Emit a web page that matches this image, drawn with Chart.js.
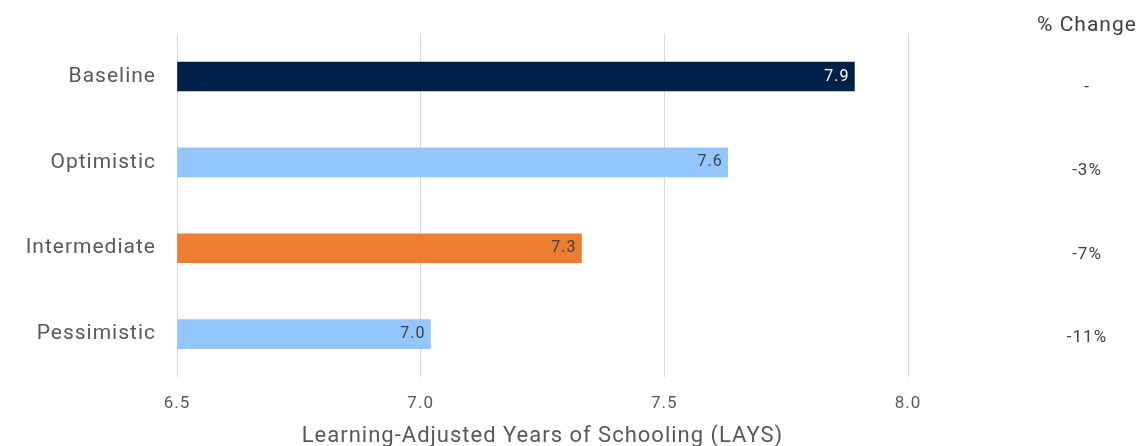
<!DOCTYPE html>
<html>
<head>
<meta charset="utf-8">
<script src="https://cdn.jsdelivr.net/npm/chart.js@4"></script>
<style>
html,body{margin:0;padding:0;background:#fff;}
#wrap{width:1140px;height:446px;}
</style>
</head>
<body>
<div id="wrap"><canvas id="c" width="1140" height="446"></canvas></div>
<script>
const categories = ["Baseline", "Optimistic", "Intermediate", "Pessimistic"];
const laysValues = [7.89, 7.63, 7.33, 7.02];
const valueLabels = ["7.9", "7.6", "7.3", "7.0"];
const pctChange = ["-", "-3%", "-7%", "-11%"];
const xTicks = [6.5, 7.0, 7.5, 8.0];
const barColors = ["#002147", "#93C6FC", "#ED7D31", "#93C6FC"];
const labelColors = ["#FFFFFF", "#404040", "#404040", "#404040"];

const FONT = "'Roboto', sans-serif";

const spacing = {
  id: 'spacing',
  beforeDraw(chart) { chart.ctx.letterSpacing = '1px'; }
};

const extras = {
  id: 'extras',
  afterDatasetsDraw(chart) {
    const ctx = chart.ctx;
    const meta = chart.getDatasetMeta(0);
    ctx.save();
    ctx.letterSpacing = '1px';
    ctx.font = "16px " + FONT;
    ctx.textBaseline = 'middle';
    meta.data.forEach((bar, i) => {
      ctx.fillStyle = labelColors[i];
      ctx.textAlign = 'right';
      ctx.fillText(valueLabels[i], bar.x - 5, bar.y);
    });
    ctx.font = "17px " + FONT;
    ctx.fillStyle = '#404040';
    ctx.textAlign = 'center';
    pctChange.forEach((t, i) => {
      ctx.fillText(t, 1087, 88 + i * 83.2);
    });
    ctx.font = "21px " + FONT;
    ctx.fillText("% Change", 1087, 26);
    ctx.restore();
  }
};

new Chart(document.getElementById('c'), {
  type: 'bar',
  data: {
    labels: categories,
    datasets: [{
      data: laysValues,
      backgroundColor: barColors,
      barThickness: 29,
      base: 6.5
    }]
  },
  options: {
    indexAxis: 'y',
    responsive: false,
    animation: false,
    layout: { padding: { top: 22, right: 232, left: 0, bottom: 0 } },
    plugins: { legend: { display: false }, tooltip: { enabled: false } },
    scales: {
      x: {
        min: 6.5, max: 8.0,
        afterBuildTicks(s) { s.ticks = xTicks.map(v => ({ value: v })); },
        afterFit(s) { s.height = 69; },
        grid: { color: '#D9D9D9', drawTicks: false, lineWidth: 1 },
        border: { display: false },
        ticks: {
          color: '#595959', padding: 17,
          font: { family: FONT, size: 17 },
          callback: v => Number(v).toFixed(1)
        },
        title: {
          display: true, text: 'Learning-Adjusted Years of Schooling (LAYS)',
          color: '#595959', font: { family: FONT, size: 22 }, padding: { top: 10, bottom: -4 }
        }
      },
      y: {
        afterFit(s) { s.width = 177; },
        grid: { display: false, drawTicks: false },
        border: { display: false },
        ticks: { color: '#595959', padding: 21, font: { family: FONT, size: 21 } }
      }
    }
  },
  plugins: [spacing, extras]
});
</script>
</body>
</html>
